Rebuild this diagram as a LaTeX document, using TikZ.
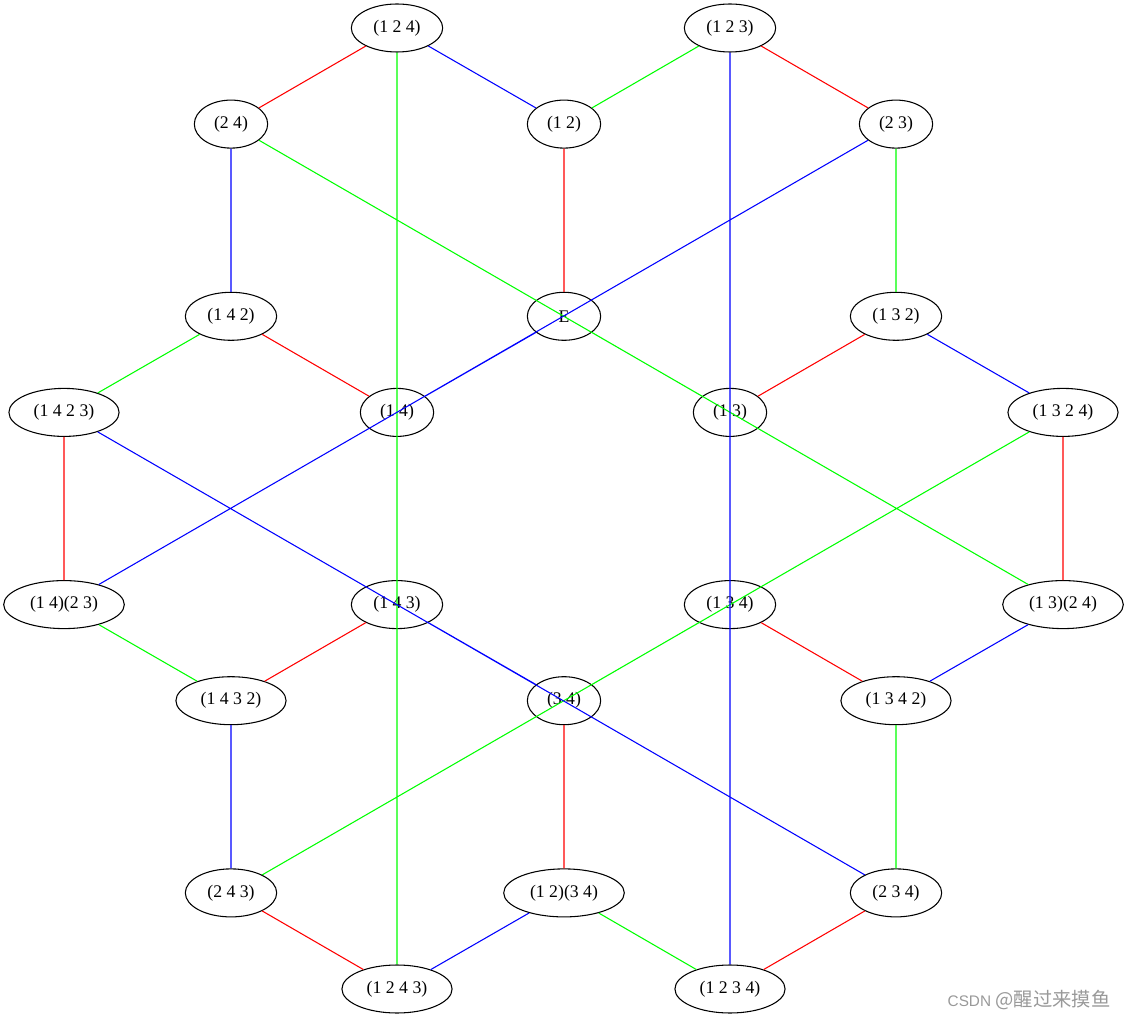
\documentclass[tikz,border=0pt]{standalone}
\usepackage{fontspec}
\setmainfont{Liberation Serif}
\newfontfamily\cjk{Noto Sans CJK SC}
\newfontfamily\wmsans{Liberation Sans}
\usepackage{tikz}
\usetikzlibrary{
	shapes.geometric
}
\definecolor{WaterGray}{RGB}{153,153,153}

\begin{document}
\begin{tikzpicture}[x=0.75pt, y=-0.75pt,
		perm/.style={draw, ellipse, line width=0.8pt, inner xsep=6.5pt, minimum width=55pt, minimum height=36pt, font=\fontsize{13.3}{16}\selectfont},
		gen/.style={line width=0.8pt}]
	\useasboundingbox (0,0) rectangle (1128,1019);
	\node[perm] (p124) at (397,28) {(1 2 4)};
	\node[perm] (p123) at (730,28) {(1 2 3)};
	\node[perm] (p24) at (231,124.1) {(2 4)};
	\node[perm] (p12) at (564,124.1) {(1 2)};
	\node[perm] (p23) at (896,124.1) {(2 3)};
	\node[perm] (p142) at (231,316.3) {(1 4 2)};
	\node[perm] (e) at (564,316.3) {E};
	\node[perm] (p132) at (896,316.3) {(1 3 2)};
	\node[perm] (p1423) at (64,412.4) {(1 4 2 3)};
	\node[perm] (p14) at (397,412.4) {(1 4)};
	\node[perm] (p13) at (730,412.4) {(1 3)};
	\node[perm] (p1324) at (1063,412.4) {(1 3 2 4)};
	\node[perm] (p14p23) at (64,604.6) {(1 4)(2 3)};
	\node[perm] (p143) at (397,604.6) {(1 4 3)};
	\node[perm] (p134) at (730,604.6) {(1 3 4)};
	\node[perm] (p13p24) at (1063,604.6) {(1 3)(2 4)};
	\node[perm] (p1432) at (231,700.7) {(1 4 3 2)};
	\node[perm] (p34) at (564,700.7) {(3 4)};
	\node[perm] (p1342) at (896,700.7) {(1 3 4 2)};
	\node[perm] (p243) at (231,892.9) {(2 4 3)};
	\node[perm] (p12p34) at (564,892.9) {(1 2)(3 4)};
	\node[perm] (p234) at (896,892.9) {(2 3 4)};
	\node[perm] (p1243) at (397,989) {(1 2 4 3)};
	\node[perm] (p1234) at (730,989) {(1 2 3 4)};
	\draw[gen, red] (p124) -- (p24) (p123) -- (p23) (p12) -- (e) (p142) -- (p14)
		(p132) -- (p13) (p1423) -- (p14p23) (p1324) -- (p13p24) (p143) -- (p1432)
		(p134) -- (p1342) (p34) -- (p12p34) (p243) -- (p1243) (p234) -- (p1234);
	\draw[gen, green] (p123) -- (p12) (p23) -- (p132) (p142) -- (p1423) (p14p23) -- (p1432)
		(p1342) -- (p234) (p12p34) -- (p1234) (p124) -- (p1243) (p24) -- (p13p24)
		(p1324) -- (p243) (e) -- (p13) (p14) -- (p143) (p134) -- (p34);
	\draw[gen, blue] (p124) -- (p12) (p24) -- (p142) (p132) -- (p1324) (p13p24) -- (p1342)
		(p1432) -- (p243) (p12p34) -- (p1243) (p123) -- (p1234) (p23) -- (p14p23)
		(p1423) -- (p234) (e) -- (p14) (p13) -- (p134) (p143) -- (p34);
	\node[text=WaterGray, inner sep=0pt] (mark) at (1029,1000) {{\wmsans\fontsize{11.5}{12}\selectfont CSDN }{\cjk\fontsize{14.5}{16}\selectfont @醒过来摸鱼}};
\end{tikzpicture}
\end{document}
